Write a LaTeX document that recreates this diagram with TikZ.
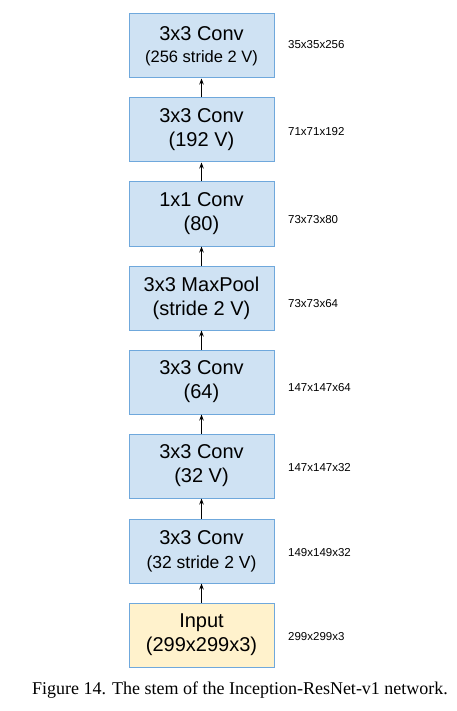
\documentclass[tikz,border=0pt]{standalone}
\usepackage{fontspec}
\setmainfont{Liberation Sans}
\newfontfamily\capfont{Liberation Serif}
\usetikzlibrary{arrows.meta}
\definecolor{boxblue}{HTML}{CFE2F3}
\definecolor{boxedge}{HTML}{6FA8DC}
\definecolor{boxyellow}{HTML}{FFF2CC}
\tikzset{
  layer/.style={draw=boxedge, line width=1pt, fill=boxblue, minimum width=145pt,
    minimum height=64pt, inner sep=0pt, align=center,
    font=\fontsize{20}{24}\selectfont},
  inbox/.style={layer, fill=boxyellow},
  dimlabel/.style={anchor=west, inner sep=0pt, font=\fontsize{11.5}{13}\selectfont},
  arr/.style={-{Stealth[length=6pt,width=4.5pt]}, line width=0.9pt, black}
}
\newcommand{\sm}[2]{{\fontsize{#1}{20}\selectfont #2}}
\begin{document}
\begin{tikzpicture}[x=1pt,y=-1pt]
\useasboundingbox (0,0) rectangle (457,711);
\node[layer] (b0) at (201.5,46) {3x3 Conv\\[-2pt]\sm{16.5}{(256 stride 2 V)}};
\node[layer] (b1) at (201.5,130) {3x3 Conv\\(192 V)};
\node[layer] (b2) at (201.5,214) {1x1 Conv\\(80)};
\node[layer] (b3) at (201.5,298) {3x3 MaxPool\\(stride 2 V)};
\node[layer] (b4) at (201.5,382) {3x3 Conv\\(64)};
\node[layer] (b5) at (201.5,466) {3x3 Conv\\(32 V)};
\node[layer] (b6) at (201.5,551) {3x3 Conv\\[0pt]\sm{17.5}{(32 stride 2 V)}};
\node[inbox] (b7) at (201.5,635) {Input\\(299x299x3)};
\foreach \i/\j in {1/0,2/1,3/2,4/3,5/4,6/5,7/6}
  \draw[arr] (b\i.north) -- (b\j.south);
\node[dimlabel] (l0) at (288,45) {35x35x256};
\node[dimlabel] (l1) at (288,132) {71x71x192};
\node[dimlabel] (l2) at (288,220) {73x73x80};
\node[dimlabel] (l3) at (288,304) {73x73x64};
\node[dimlabel] (l4) at (288,388) {147x147x64};
\node[dimlabel] (l5) at (288,468) {147x147x32};
\node[dimlabel] (l6) at (288,553) {149x149x32};
\node[dimlabel] (l7) at (288,637) {299x299x3};
\node[font=\capfont\fontsize{18}{20}\selectfont, inner sep=0pt] (cap) at (240,690)
  {Figure 14. The stem of the Inception-ResNet-v1 network.};
\end{tikzpicture}
\end{document}
